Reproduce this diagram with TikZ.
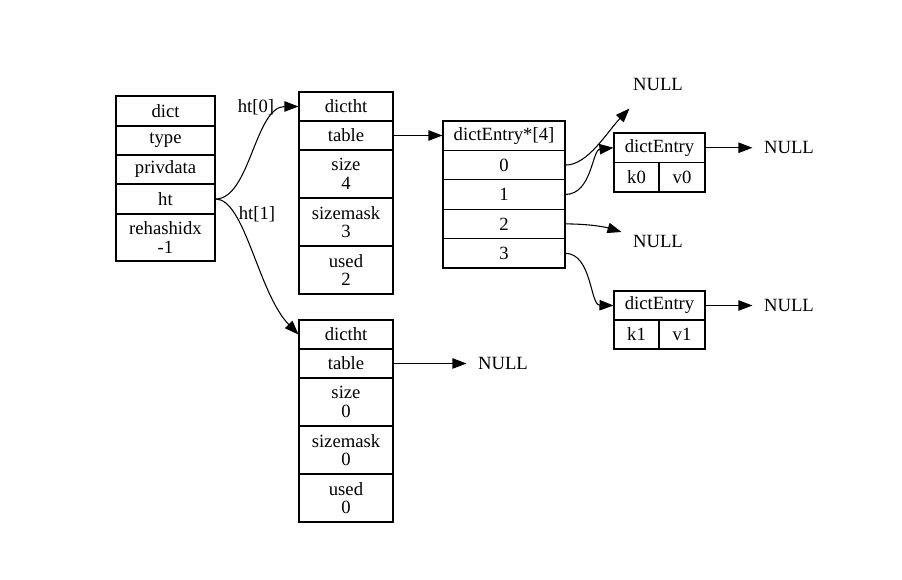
\documentclass[tikz,border=0pt]{standalone}
\usepackage{fontspec}
\setmainfont{Liberation Serif}
\usetikzlibrary{arrows.meta,calc}
\newcommand\rcell[6]{\node[fld,minimum width=#4*0.75pt,minimum height=#5*0.75pt] (#1) at (#2,#3) {#6};}
\begin{document}
\begin{tikzpicture}[x=0.75pt,y=-0.75pt,line width=0.8pt,
  fld/.style={draw,inner sep=0pt,align=center,font=\fontsize{14}{14}\selectfont},
  nul/.style={inner sep=0pt,minimum width=54pt,minimum height=36pt,font=\fontsize{14}{14}\selectfont},
  lbl/.style={inner sep=0pt,font=\fontsize{14}{14}\selectfont},
  arr/.style={-{Triangle[length=10.5pt,width=7.8pt]}}]
\useasboundingbox (0,0) rectangle (902,580);
% dict
\rcell{dict}{165.5}{111}{99}{30}{dict}
\rcell{type}{165.5}{140.5}{99}{29}{type}
\rcell{priv}{165.5}{169.5}{99}{29}{privdata}
\rcell{ht}{165.5}{199}{99}{30}{ht}
\rcell{rehash}{165.5}{237.5}{99}{47}{rehashidx\\-1}
% dictht 0
\rcell{aH}{346}{106.5}{94}{29}{dictht}
\rcell{aT}{346}{135.5}{94}{29}{table}
\rcell{aS}{346}{174}{94}{48}{size\\4}
\rcell{aM}{346}{222}{94}{48}{sizemask\\3}
\rcell{aU}{346}{270}{94}{48}{used\\2}
% dictht 1
\rcell{bH}{346}{334.5}{94}{29}{dictht}
\rcell{bT}{346}{363.5}{94}{29}{table}
\rcell{bS}{346}{402}{94}{48}{size\\0}
\rcell{bM}{346}{450}{94}{48}{sizemask\\0}
\rcell{bU}{346}{498}{94}{48}{used\\0}
% table array
\rcell{eH}{504}{135.7}{122}{29.4}{dictEntry*[4]}
\rcell{e0}{504}{165.1}{122}{29.4}{0}
\rcell{e1}{504}{194.5}{122}{29.4}{1}
\rcell{e2}{504}{223.9}{122}{29.4}{2}
\rcell{e3}{504}{253.3}{122}{29.4}{3}
% dictEntry 0
\rcell{pH}{659.5}{147.75}{91}{29.5}{dictEntry}
\rcell{pK}{636.5}{177.25}{45}{29.5}{k0}
\rcell{pV}{682}{177.25}{46}{29.5}{v0}
% dictEntry 1
\rcell{qH}{659.5}{305.5}{91}{29}{dictEntry}
\rcell{qK}{636.5}{334.5}{45}{29}{k1}
\rcell{qV}{682}{334.5}{46}{29}{v1}
% NULLs
\node[nul] (n0) at (658,84) {NULL};
\node[nul] (n2) at (658,241) {NULL};
\node[nul] (nr0) at (789,147.75) {NULL};
\node[nul] (nr1) at (789,305.5) {NULL};
\node[nul] (nt1) at (503,363.5) {NULL};
% labels
\node[lbl] (l0) at (256,107) {ht[0]};
\node[lbl] (l1) at (257,214) {ht[1]};
% edges
\draw[arr] (ht.east) .. controls (250,199) and (255,106.5) .. (aH.west);
\draw[arr] (ht.east) .. controls (245,199) and (258,293) .. (bH.west);
\draw[arr] (aT.east) -- (aT.east -| eH.west);
\draw[arr] (bT.east) -- (nt1.west);
\draw[arr] (e0.east) .. controls (588,165) and (607,132) .. ($(n0.south west)+(8,0)$);
\draw[arr] (e1.east) .. controls (592,194) and (592,150) .. (pH.west);
\draw[arr] (e2.east) .. controls (590,224) and (605,227) .. ($(n2.west)+(0,-9)$);
\draw[arr] (e3.east) .. controls (592,254) and (590,305) .. (qH.west);
\draw[arr] (pH.east) -- (nr0.west);
\draw[arr] (qH.east) -- (nr1.west);
\end{tikzpicture}
\end{document}
